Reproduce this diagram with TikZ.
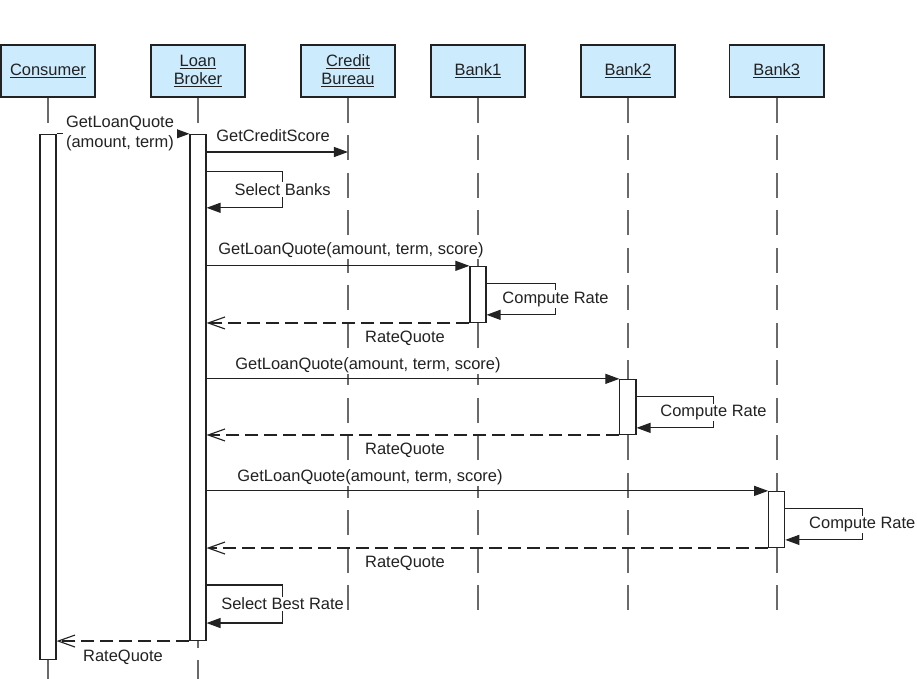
\documentclass[tikz,border=0pt]{standalone}
\usepackage{fontspec}
\setmainfont{Liberation Sans}
\definecolor{headblue}{HTML}{CCEBFD}
\definecolor{lifegray}{HTML}{6A6A6A}
\definecolor{inkgray}{HTML}{222222}
\usepackage{tikz}
\usetikzlibrary{arrows.meta, positioning}

\begin{document}
\begin{tikzpicture}[
    x=0.025cm, y=-0.025cm,
    font=\fontsize{11.7}{14}\selectfont,
    head/.style={rectangle, draw=inkgray, line width=1.1pt, fill=headblue, minimum width=2.35cm, minimum height=1.3cm, align=center, text=inkgray, font=\fontsize{11.7}{12.8}\selectfont},
    act/.style={rectangle, draw=inkgray, line width=0.8pt, fill=white, minimum width=0.4cm, inner sep=0pt},
    lifeline/.style={draw=lifegray, line width=1.3pt, dash pattern=on 0.625cm off 0.3125cm},
    msg/.style={draw=inkgray, line width=0.8pt, -{Triangle[length=0.35cm, width=0.25cm]}},
    reply/.style={draw=inkgray, line width=0.8pt, dash pattern=on 0.325cm off 0.15cm, -{Straight Barb[length=0.42cm, width=0.3cm]}},
    lbl/.style={fill=white, inner sep=1pt, text=inkgray},
]
    \useasboundingbox (0,0) rectangle (917,679);

    % participants
    \node[head] (con) at (48,71) {\underline{Consumer}};
    \node[head, right=1.36cm of con] (lb) {\underline{Loan}\\\underline{Broker}};
    \node[head, right=1.36cm of lb] (cb) {\underline{Credit}\\\underline{Bureau}};
    \node[head, right=0.86cm of cb] (bk1) {\underline{Bank1}};
    \node[head, right=1.36cm of bk1] (bk2) {\underline{Bank2}};
    \node[head, right=1.33cm of bk2] (bk3) {\underline{Bank3}};

    % lifelines
    \coordinate (yend) at (0,679);
    \coordinate (yshort) at (0,610);
    \draw[lifeline] (con.south) -- (con.south |- yend);
    \draw[lifeline] (lb.south) -- (lb.south |- yend);
    \foreach \who in {cb, bk1, bk2, bk3}
        \draw[lifeline] (\who.south) -- (\who.south |- yshort);

    % activations
    \node[act, minimum height=13.125cm, below=0.9cm of con] (conA) {};
    \node[act, minimum height=12.65cm, below=0.9cm of lb] (lbA) {};
    \node[act, minimum height=1.4cm, below=4.2cm of bk1] (b1A) {};
    \node[act, minimum height=1.375cm, below=7.025cm of bk2] (b2A) {};
    \node[act, minimum height=1.4cm, below=9.825cm of bk3] (b3A) {};

    % request from the consumer
    \draw[msg] (conA.north east) -- (lbA.north west);
    \node[lbl, align=left, inner sep=2pt, font=\fontsize{11.7}{14.2}\selectfont] (glq0L) at (120,133) {GetLoanQuote\\(amount, term)};

    % credit score
    \coordinate (ycs) at (0,152);
    \draw[msg] (lbA.east |- ycs) -- (cb.south |- ycs);
    \node[lbl] (gcsL) at (273,136) {GetCreditScore};

    \draw[msg] ([yshift=-0.95cm]lbA.north east) -- ++(76,0) -- ++(0,36) node[lbl, midway] (sbL) {Select Banks} -- ++(-76,0);

    % Bank1
    \draw[msg] (lbA.east |- b1A.north) -- (b1A.north west);
    \node[lbl] (glq1L) at (351,250) {GetLoanQuote(amount, term, score)};
    \draw[msg] ([yshift=-0.45cm]b1A.north east) -- ++(69,0) -- ++(0,31) node[lbl, midway] (cr1L) {Compute Rate} -- ++(-69,0);
    \draw[reply] (b1A.south west) -- (lbA.east |- b1A.south);
    \node[lbl] (rq1L) at (405,338) {RateQuote};

    % Bank2
    \draw[msg] (lbA.east |- b2A.north) -- (b2A.north west);
    \node[lbl] (glq2L) at (368,365) {GetLoanQuote(amount, term, score)};
    \draw[msg] ([yshift=-0.45cm]b2A.north east) -- ++(77,0) -- ++(0,31) node[lbl, midway] (cr2L) {Compute Rate} -- ++(-77,0);
    \draw[reply] (b2A.south west) -- (lbA.east |- b2A.south);
    \node[lbl] (rq2L) at (405,450) {RateQuote};

    % Bank3
    \draw[msg] (lbA.east |- b3A.north) -- (b3A.north west);
    \node[lbl] (glq3L) at (370,477) {GetLoanQuote(amount, term, score)};
    \draw[msg] ([yshift=-0.45cm]b3A.north east) -- ++(77,0) -- ++(0,31) node[lbl, midway] (cr3L) {Compute Rate} -- ++(-77,0);
    \draw[reply] (b3A.south west) -- (lbA.east |- b3A.south);
    \node[lbl] (rq3L) at (405,563) {RateQuote};

    % answer to the consumer
    \draw[msg] ([yshift=1.4cm]lbA.south east) -- ++(76,0) -- ++(0,38) node[lbl, midway] (sbrL) {Select Best Rate} -- ++(-76,0);
    \draw[reply] (lbA.south west) -- (conA.east |- lbA.south);
    \node[lbl] (rq4L) at (123,657) {RateQuote};
\end{tikzpicture}
\end{document}
